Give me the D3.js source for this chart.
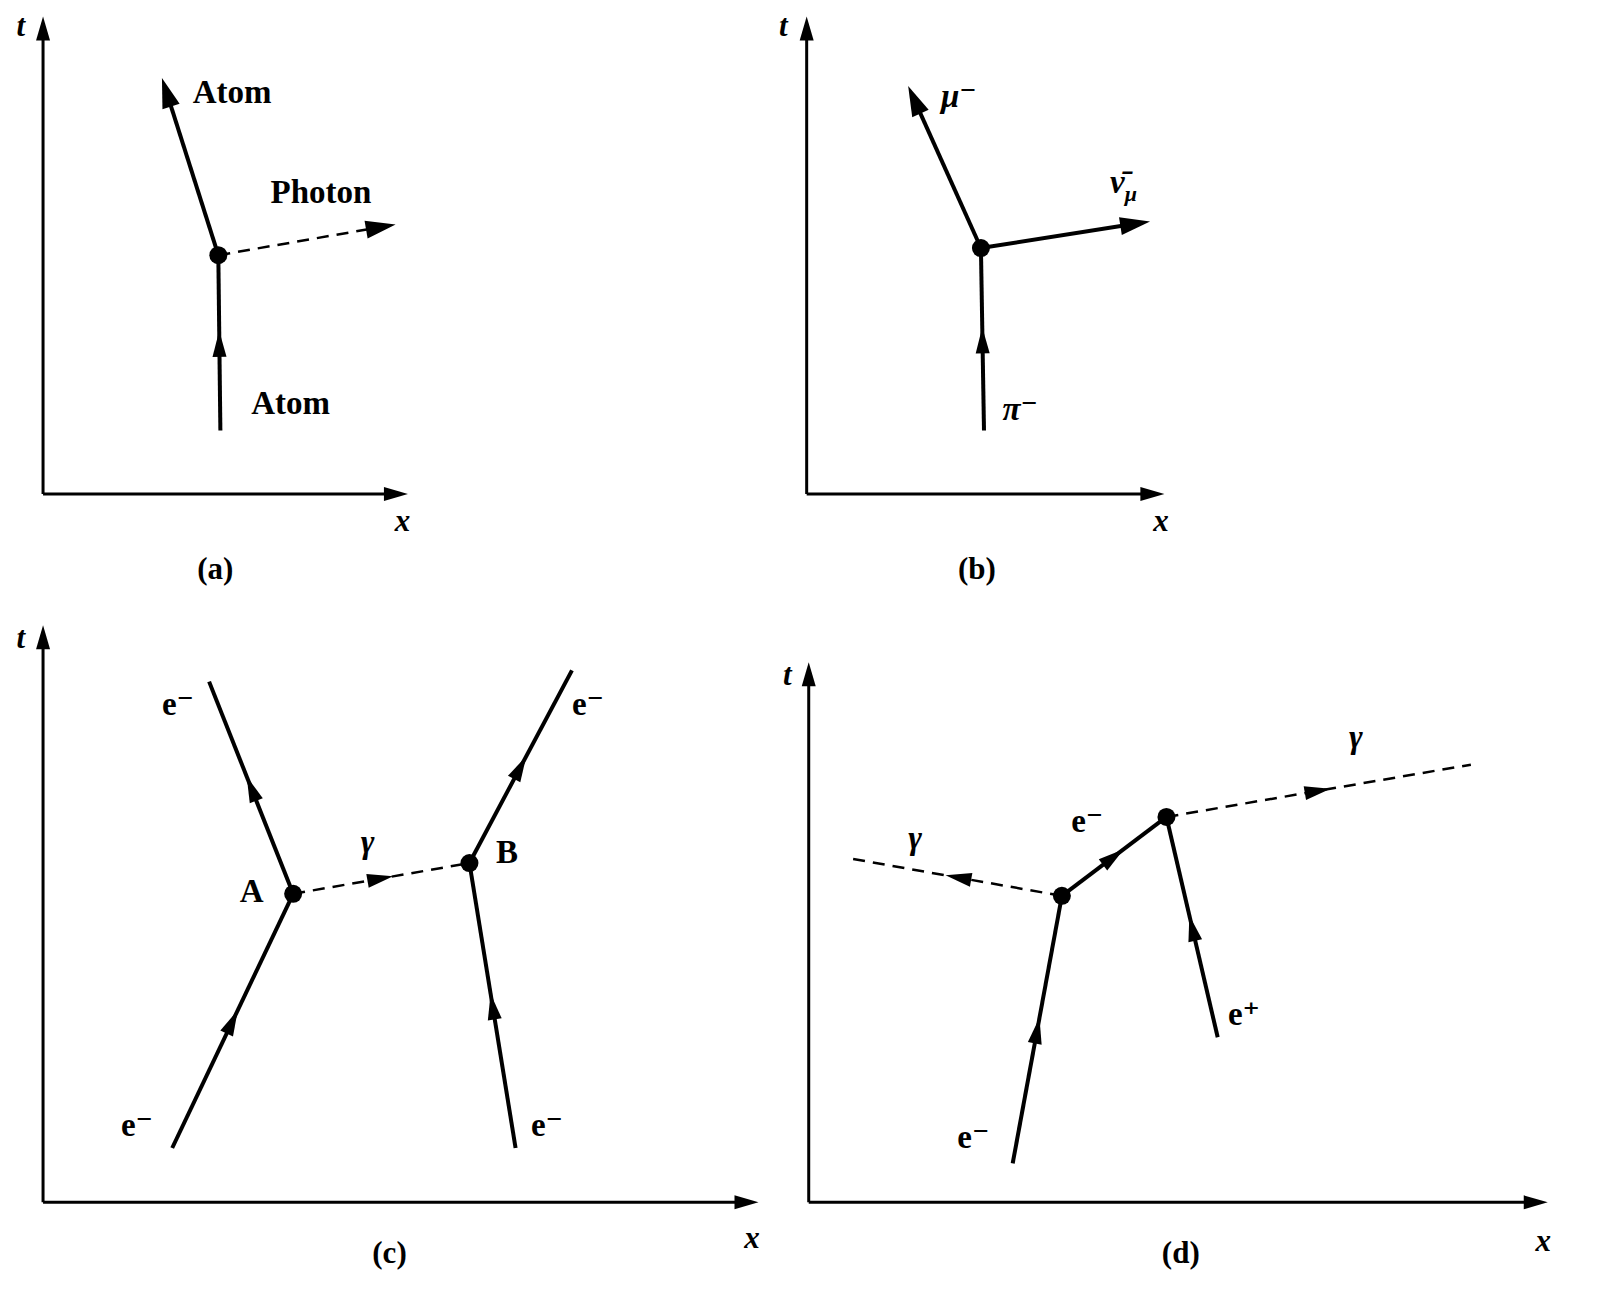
<!DOCTYPE html>
<html><head><meta charset="utf-8">
<script src="https://cdn.jsdelivr.net/npm/d3@7"></script>
<style>body{margin:0;background:#fff}</style></head>
<body><svg id="c" width="1600" height="1300"></svg>
<script>
// Panel axes: origin, x end, t top
const axes = [
  {id:"a", ox:42, oy:482, xe:398, te:16, tl:[16,35], xl:[385,518], cap:"(a)", cl:[210,565]},
  {id:"b", ox:787, oy:482, xe:1136, te:16, tl:[760,35], xl:[1125,518], cap:"(b)", cl:[953,565]},
  {id:"c", ox:42, oy:1173, xe:740, te:610, tl:[16,632], xl:[726,1218], cap:"(c)", cl:[380,1232]},
  {id:"d", ox:789, oy:1173, xe:1510, te:646, tl:[764,668], xl:[1498,1220], cap:"(d)", cl:[1152,1232]}
];
// Vertices
const vertices = [[213,249],[957,242],[286,872],[458,842],[1036,874],[1138,797]];
// Lines: x1,y1,x2,y2, dashed, arrow type ("end" | "mid")
const lines = [
  [215,420,213,249,false,"mid"],
  [213,249,158,76,false,"end"],
  [213,249,386,219,true,"end"],
  [960,420,957,242,false,"mid"],
  [957,242,886,84,false,"end"],
  [957,242,1122,216,false,"end"],
  [168,1120,286,872,false,"mid"],
  [286,872,204,665,false,"mid"],
  [286,872,458,842,true,"mid"],
  [503,1120,458,842,false,"mid"],
  [458,842,558,654,false,"mid"],
  [988,1135,1036,874,false,"mid"],
  [1036,874,1138,797,false,"mid"],
  [1188,1012,1138,797,false,"mid"],
  [1036,874,832,838,true,"mid"],
  [1138,797,1435,746,true,"mid"]
];
// Labels
const labels = [
  ["Atom",188,100],["Photon",264,198],["Atom",245,404],
  ["μ⁻",918,104],["ν̄",1083,188],["π⁻",978,410],
  ["e⁻",158,698],["e⁻",558,698],["γ",352,832],["A",234,880],["B",484,842],["e⁻",118,1108],["e⁻",518,1108],
  ["γ",886,828],["e⁻",1045,812],["γ",1316,730],["e⁺",1198,1000],["e⁻",934,1120]
];

const k = 1.025;
const sx = d3.scaleLinear().domain([0,1600]).range([0,1600*k]);
const sy = d3.scaleLinear().domain([0,1300]).range([0,1300*k]);
const svg = d3.select("#c");
const font = "'Liberation Serif','DejaVu Serif',serif";

function head(x,y,ang,len,w){
  const c=Math.cos(ang),s=Math.sin(ang);
  const bx=x-c*len, by=y-s*len;
  return `M${x},${y}L${bx-s*w/2},${by+c*w/2}L${bx+s*w/2},${by-c*w/2}Z`;
}

axes.forEach(a=>{
  svg.append("line").attr("x1",sx(a.ox)).attr("y1",sy(a.oy)).attr("x2",sx(a.xe)-20).attr("y2",sy(a.oy)).attr("stroke","#000").attr("stroke-width",3);
  svg.append("line").attr("x1",sx(a.ox)).attr("y1",sy(a.oy)).attr("x2",sx(a.ox)).attr("y2",sy(a.te)+20).attr("stroke","#000").attr("stroke-width",3);
  svg.append("path").attr("d",head(sx(a.xe),sy(a.oy),0,24,14));
  svg.append("path").attr("d",head(sx(a.ox),sy(a.te),-Math.PI/2,24,14));
  svg.append("text").attr("x",sx(a.tl[0])).attr("y",sy(a.tl[1])).text("t").attr("font-family",font).attr("font-style","italic").attr("font-weight","bold").attr("font-size",31);
  svg.append("text").attr("x",sx(a.xl[0])).attr("y",sy(a.xl[1])).text("x").attr("font-family",font).attr("font-style","italic").attr("font-weight","bold").attr("font-size",31);
  svg.append("text").attr("x",sx(a.cl[0])).attr("y",sy(a.cl[1])).text(a.cap).attr("text-anchor","middle").attr("font-family",font).attr("font-weight","bold").attr("font-size",31);
});

lines.forEach(([x1,y1,x2,y2,dash,arr])=>{
  const X1=sx(x1),Y1=sy(y1),X2=sx(x2),Y2=sy(y2);
  const ang=Math.atan2(Y2-Y1,X2-X1);
  const ex = arr==="end" ? X2-Math.cos(ang)*20 : X2, ey = arr==="end" ? Y2-Math.sin(ang)*20 : Y2;
  svg.append("line").attr("x1",X1).attr("y1",Y1).attr("x2",ex).attr("y2",ey)
    .attr("stroke","#000").attr("stroke-width",dash?2.5:4).attr("stroke-dasharray",dash?"12,8":null);
  if(arr==="end") svg.append("path").attr("d",head(X2,Y2,ang,30,18));
  else { const mx=(X1+X2)/2+Math.cos(ang)*12, my=(Y1+Y2)/2+Math.sin(ang)*12;
    svg.append("path").attr("d",head(mx,my,ang,26,14)); }
});

vertices.forEach(([x,y])=>svg.append("circle").attr("cx",sx(x)).attr("cy",sy(y)).attr("r",9));

labels.forEach(([t,x,y])=>{
  const el=svg.append("text").attr("x",sx(x)).attr("y",sy(y)).attr("font-family",font).attr("font-weight","bold").attr("font-size",33);
  if(t==="ν̄"){ el.attr("font-style","italic").text("ν̄"); el.append("tspan").attr("dy",8).attr("font-size",22).text("μ"); }
  else if(t==="μ⁻"||t==="π⁻"||t==="γ") el.attr("font-style","italic").text(t);
  else el.text(t);
});
</script></body></html>
